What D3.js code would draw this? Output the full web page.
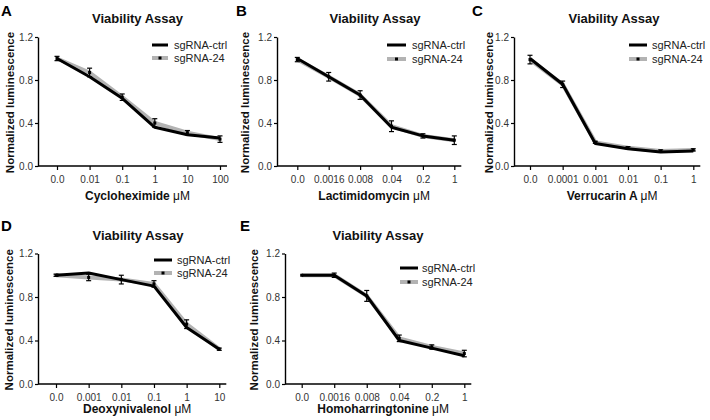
<!DOCTYPE html>
<html><head><meta charset="utf-8">
<script src="https://cdn.jsdelivr.net/npm/d3@7"></script>
<style>body{margin:0;background:#fff}svg{display:block}text{font-family:"Liberation Sans",Arial,sans-serif}</style>
</head><body>
<svg id="c" width="710" height="420"></svg>
<script>
// ---- data ----
const panelLetters = ["A", "B", "C", "D", "E"];
const drugNames = ["Cycloheximide", "Lactimidomycin", "Verrucarin A", "Deoxynivalenol", "Homoharringtonine"];
const doseLabels = [
  ["0.0", "0.01", "0.1", "1", "10", "100"],
  ["0.0", "0.0016", "0.008", "0.04", "0.2", "1"],
  ["0.0", "0.0001", "0.001", "0.01", "0.1", "1"],
  ["0.0", "0.001", "0.01", "0.1", "1", "10"],
  ["0.0", "0.0016", "0.008", "0.04", "0.2", "1"]
];
const ctrlValues = [
  [1.00, 0.83, 0.63, 0.36, 0.29, 0.26],
  [1.00, 0.83, 0.66, 0.36, 0.28, 0.24],
  [1.00, 0.76, 0.21, 0.16, 0.13, 0.14],
  [1.00, 1.02, 0.96, 0.90, 0.52, 0.32],
  [1.00, 1.00, 0.81, 0.40, 0.33, 0.26]
];
const sg24Values = [
  [1.00, 0.87, 0.64, 0.40, 0.31, 0.25],
  [0.99, 0.83, 0.66, 0.37, 0.28, 0.24],
  [0.99, 0.76, 0.22, 0.17, 0.14, 0.15],
  [1.00, 0.98, 0.96, 0.92, 0.55, 0.32],
  [1.00, 1.00, 0.81, 0.42, 0.34, 0.28]
];
const errValues = [
  [0.02, 0.04, 0.03, 0.04, 0.02, 0.03],
  [0.02, 0.04, 0.04, 0.05, 0.02, 0.04],
  [0.04, 0.03, 0.01, 0.01, 0.01, 0.01],
  [0.01, 0.03, 0.04, 0.03, 0.04, 0.01],
  [0.00, 0.02, 0.05, 0.03, 0.02, 0.03]
];
const yTicks = [0.0, 0.4, 0.8, 1.2];
const seriesNames = ["sgRNA-ctrl", "sgRNA-24"];

// ---- layout ----
const layout = [
  {ax: 38,  x0: 57,    x1: 220,   yb: 166, yt: 37,  title: [137.5, 23],  letter: [1, 16],    ylab: 10,  xlabY: 200, leg: [152, 168, 174, 45, 58]},
  {ax: 277, x0: 297.3, x1: 454.3, yb: 166, yt: 37,  title: [375, 23],    letter: [236, 16],  ylab: 245, xlabY: 200, leg: [387, 406, 412, 45, 59]},
  {ax: 514, x0: 530,   x1: 693.3, yb: 166, yt: 37,  title: [614, 23],    letter: [472, 16],  ylab: 489, xlabY: 200, leg: [629, 647, 652, 45, 59]},
  {ax: 38,  x0: 56,    x1: 219.3, yb: 384, yt: 253.5, title: [138, 240], letter: [1, 231],   ylab: 9,   xlabY: 413, leg: [154, 172, 177, 260, 273]},
  {ax: 285, x0: 301.7, x1: 464.3, yb: 384, yt: 253.5, title: [378, 240], letter: [240, 231], ylab: 254, xlabY: 413, leg: [400, 418, 422, 268, 282]}
];

const svg = d3.select("#c");
const GRAY = "#b3b3b3";

panelLetters.forEach((L, i) => {
  const lo = layout[i];
  const g = svg.append("g");
  const x = d3.scalePoint().domain(doseLabels[i]).range([lo.x0, lo.x1]);
  const y = d3.scaleLinear().domain([0, 1.2]).range([lo.yb, lo.yt]);

  // axes
  const yAxis = g.append("g").attr("transform", `translate(${lo.ax},0)`)
    .call(d3.axisLeft(y).tickValues(yTicks).tickFormat(d3.format(".1f")).tickSize(3).tickSizeOuter(0));
  yAxis.select(".domain").attr("stroke", "#000").attr("stroke-width", 1.4);
  yAxis.selectAll(".tick line").attr("stroke", "#000").attr("stroke-width", 1.2);
  yAxis.selectAll(".tick text").attr("font-size", 10).attr("fill", "#333").attr("x", -5)
    .style("font-family", "Liberation Sans, Arial, sans-serif");

  const xAxis = g.append("g").attr("transform", `translate(0,${lo.yb})`)
    .call(d3.axisBottom(x).tickSize(4).tickSizeOuter(0));
  xAxis.select(".domain").attr("d", `M${lo.ax},0H${lo.x1 + 7}`).attr("stroke", "#000").attr("stroke-width", 1.4);
  xAxis.selectAll(".tick line").attr("stroke", "#000").attr("stroke-width", 1.2);
  xAxis.selectAll(".tick text").attr("font-size", 10).attr("fill", "#333").attr("y", 10)
    .style("font-family", "Liberation Sans, Arial, sans-serif");

  // lines
  const line = d3.line().x((d, j) => x(doseLabels[i][j])).y(d => y(d));
  g.append("path").datum(sg24Values[i]).attr("d", line).attr("fill", "none")
    .attr("stroke", GRAY).attr("stroke-width", 4).attr("stroke-linejoin", "round");
  // error bars
  const eb = g.append("g");
  sg24Values[i].forEach((v, j) => {
    const e = errValues[i][j];
    if (e <= 0) return;
    const cx = x(doseLabels[i][j]);
    eb.append("line").attr("x1", cx).attr("x2", cx).attr("y1", y(v - e)).attr("y2", y(v + e))
      .attr("stroke", "#000").attr("stroke-width", 1.2);
    [v - e, v + e].forEach(w => eb.append("line").attr("x1", cx - 2.5).attr("x2", cx + 2.5)
      .attr("y1", y(w)).attr("y2", y(w)).attr("stroke", "#000").attr("stroke-width", 1.2));
  });
  g.append("path").datum(ctrlValues[i]).attr("d", line).attr("fill", "none")
    .attr("stroke", "#000").attr("stroke-width", 3).attr("stroke-linejoin", "round");
  g.selectAll(".mk").data(sg24Values[i]).enter().append("rect")
    .attr("x", (d, j) => x(doseLabels[i][j]) - 1.5).attr("y", d => y(d) - 1.5)
    .attr("width", 3).attr("height", 3).attr("fill", "#000");

  // title & labels
  g.append("text").attr("x", lo.title[0]).attr("y", lo.title[1]).attr("text-anchor", "middle")
    .attr("font-size", 13).attr("font-weight", "bold").attr("fill", "#111").text("Viability Assay");
  g.append("text").attr("x", lo.letter[0]).attr("y", lo.letter[1])
    .attr("font-size", 15).attr("font-weight", "bold").attr("fill", "#000").text(L);
  g.append("text").attr("transform", `translate(${lo.ylab + 4},${(lo.yb + lo.yt) / 2 + 1}) rotate(-90)`)
    .attr("text-anchor", "middle").attr("font-size", 11.5).attr("font-weight", "bold").attr("fill", "#111")
    .text("Normalized luminescence");
  const xl = g.append("text").attr("x", (lo.ax + lo.x1 + 7) / 2 + 5).attr("y", lo.xlabY)
    .attr("text-anchor", "middle").attr("font-size", 12).attr("fill", "#111");
  xl.append("tspan").attr("font-weight", "bold").text(drugNames[i] + " ");
  xl.append("tspan").attr("font-weight", "normal").text("\u03BCM");

  // legend
  const [lx1, lx2, tx, r1, r2] = lo.leg;
  g.append("line").attr("x1", lx1).attr("x2", lx2).attr("y1", r1).attr("y2", r1)
    .attr("stroke", "#000").attr("stroke-width", 3);
  g.append("line").attr("x1", lx1).attr("x2", lx2).attr("y1", r2).attr("y2", r2)
    .attr("stroke", GRAY).attr("stroke-width", 4);
  g.append("rect").attr("x", (lx1 + lx2) / 2 - 1.5).attr("y", r2 - 1.5).attr("width", 3).attr("height", 3).attr("fill", "#000");
  g.append("text").attr("x", tx).attr("y", r1 + 4).attr("font-size", 11).attr("fill", "#222").text(seriesNames[0]);
  g.append("text").attr("x", tx).attr("y", r2 + 4).attr("font-size", 11).attr("fill", "#222").text(seriesNames[1]);
});
</script>
</body></html>
